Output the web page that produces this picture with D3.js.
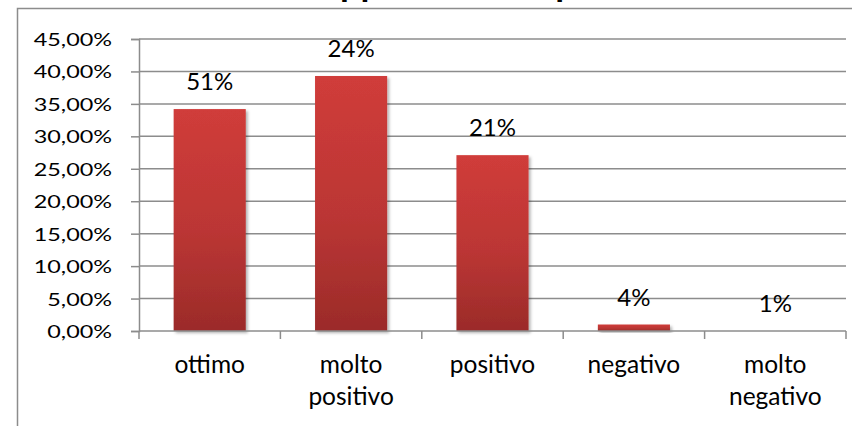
<!DOCTYPE html>
<html>
<head>
<meta charset="utf-8">
<script src="https://cdn.jsdelivr.net/npm/d3@7"></script>
<style>
  body { margin: 0; background: #fff; }
  text { font-family: Lato, "Open Sans", sans-serif; fill: #000; }
</style>
</head>
<body>
<div id="chart"></div>
<script>
var title = "Giudizio sull'approccio complessivo";
var categories = ["ottimo", "molto positivo", "positivo", "negativo", "molto negativo"];
var values = [34.2, 39.3, 27.1, 1.0, 0];
var barLabels = ["51%", "24%", "21%", "4%", "1%"];
var yTicks = [0, 5, 10, 15, 20, 25, 30, 35, 40, 45];

var W = 852, H = 426;
var margin = {top: 39, right: 6, bottom: 95, left: 139},
    width = W - margin.left - margin.right,
    height = H - margin.top - margin.bottom;

var svg = d3.select("#chart").append("svg")
    .attr("width", W)
    .attr("height", H);

var defs = svg.append("defs");
var grad = defs.append("linearGradient")
    .attr("id", "barGrad")
    .attr("x1", 0).attr("y1", 0).attr("x2", 0).attr("y2", 1);
grad.append("stop").attr("offset", "0%").attr("stop-color", "#d03c3a");
grad.append("stop").attr("offset", "55%").attr("stop-color", "#bb3634");
grad.append("stop").attr("offset", "100%").attr("stop-color", "#9b2b29");

var shadow = defs.append("filter").attr("id", "shadow")
    .attr("x", "-10%").attr("y", "-10%").attr("width", "130%").attr("height", "130%");
shadow.append("feDropShadow")
    .attr("dx", 2).attr("dy", 2).attr("stdDeviation", 1.5)
    .attr("flood-color", "#000").attr("flood-opacity", 0.3);

// chart border (runs off the right and bottom edge)
svg.append("rect")
    .attr("x", 17.5).attr("y", 8.5)
    .attr("width", W + 20).attr("height", H + 20)
    .attr("fill", "none")
    .attr("stroke", "#8c8c8c")
    .attr("stroke-width", 1.5);

// title, mostly cut off at the top
var t = svg.append("text")
    .attr("y", -4)
    .attr("font-weight", "bold")
    .attr("font-size", 36)
    .text(title);
var pre = svg.append("text").attr("font-weight", "bold").attr("font-size", 36)
    .text(title.slice(0, title.indexOf("pp")));
t.attr("x", 340 - pre.node().getComputedTextLength());
pre.remove();

var g = svg.append("g")
    .attr("transform", "translate(" + margin.left + "," + margin.top + ")");

var x = d3.scaleBand()
    .domain(categories)
    .range([0, width])
    .paddingInner(0.49)
    .paddingOuter(0.245);

var y = d3.scaleLinear()
    .domain([0, 45])
    .range([height, 0]);

var locale = d3.formatLocale({decimal: ",", thousands: ".", grouping: [3], currency: ["", "€"]});
var fmt = locale.format(".2f");

// gridlines
g.append("g")
  .selectAll("line")
  .data(yTicks.slice(1))
  .enter().append("line")
    .attr("x1", 0).attr("x2", width)
    .attr("y1", function(d) { return y(d); })
    .attr("y2", function(d) { return y(d); })
    .attr("stroke", "#8c8c8c")
    .attr("stroke-width", 1.5);

// y axis
var yAxis = g.append("g")
    .call(d3.axisLeft(y).tickValues(yTicks).tickSize(8).tickPadding(0)
      .tickFormat(function(d) { return fmt(d) + "%"; }));
yAxis.select(".domain").attr("stroke", "#8c8c8c").attr("stroke-width", 1.5);
yAxis.selectAll(".tick line").attr("stroke", "#8c8c8c").attr("stroke-width", 1.5);
yAxis.selectAll(".tick text")
    .attr("font-family", "Lato")
    .attr("font-size", 18)
    .attr("fill", "#000")
    .attr("x", -27 / 1.3)
    .attr("dy", "0.36em")
    .attr("transform", "scale(1.3,1)");

// bars
g.selectAll("rect.bar")
  .data(values)
  .enter().append("rect")
    .attr("class", "bar")
    .attr("x", function(d, i) { return x(categories[i]); })
    .attr("y", function(d) { return y(d); })
    .attr("width", x.bandwidth())
    .attr("height", function(d) { return height - y(d); })
    .attr("fill", "url(#barGrad)")
    .attr("filter", "url(#shadow)");

// x axis (ticks between categories)
var step = x.step();
var xa = g.append("g").attr("transform", "translate(0," + height + ")");
xa.append("line")
    .attr("x1", 0).attr("x2", width)
    .attr("stroke", "#8c8c8c").attr("stroke-width", 1.5);
xa.selectAll("line.tick")
  .data(d3.range(categories.length + 1))
  .enter().append("line")
    .attr("class", "tick")
    .attr("x1", function(i) { return i * step; })
    .attr("x2", function(i) { return i * step; })
    .attr("y1", 0).attr("y2", 8)
    .attr("stroke", "#8c8c8c").attr("stroke-width", 1.5);

var catText = xa.selectAll("text.cat")
  .data(categories)
  .enter().append("text")
    .attr("class", "cat")
    .attr("text-anchor", "middle")
    .attr("font-size", 24.5)
    .attr("y", 42)
    .attr("x", function(d) { return x(d) + x.bandwidth() / 2; })
    .text(function(d) { return d; });
catText.call(wrap, step - 6);

// data labels
g.selectAll("text.lbl")
  .data(values)
  .enter().append("text")
    .attr("class", "lbl")
    .attr("text-anchor", "middle")
    .attr("font-size", 24)
    .attr("x", function(d, i) { return x(categories[i]) + x.bandwidth() / 2; })
    .attr("y", function(d) { return y(d) - 19; })
    .text(function(d, i) { return barLabels[i]; });

function wrap(text, w) {
  text.each(function() {
    var txt = d3.select(this),
        words = txt.text().split(/\s+/),
        xx = txt.attr("x"), yy = txt.attr("y"),
        line = [], lineNo = 0;
    txt.text(null);
    var tspan = txt.append("tspan").attr("x", xx).attr("y", yy);
    words.forEach(function(word) {
      line.push(word);
      tspan.text(line.join(" "));
      if (tspan.node().getComputedTextLength() > w && line.length > 1) {
        line.pop();
        tspan.text(line.join(" "));
        line = [word];
        lineNo++;
        tspan = txt.append("tspan").attr("x", xx)
            .attr("y", +yy + lineNo * 32).text(word);
      }
    });
  });
}
</script>
</body>
</html>
